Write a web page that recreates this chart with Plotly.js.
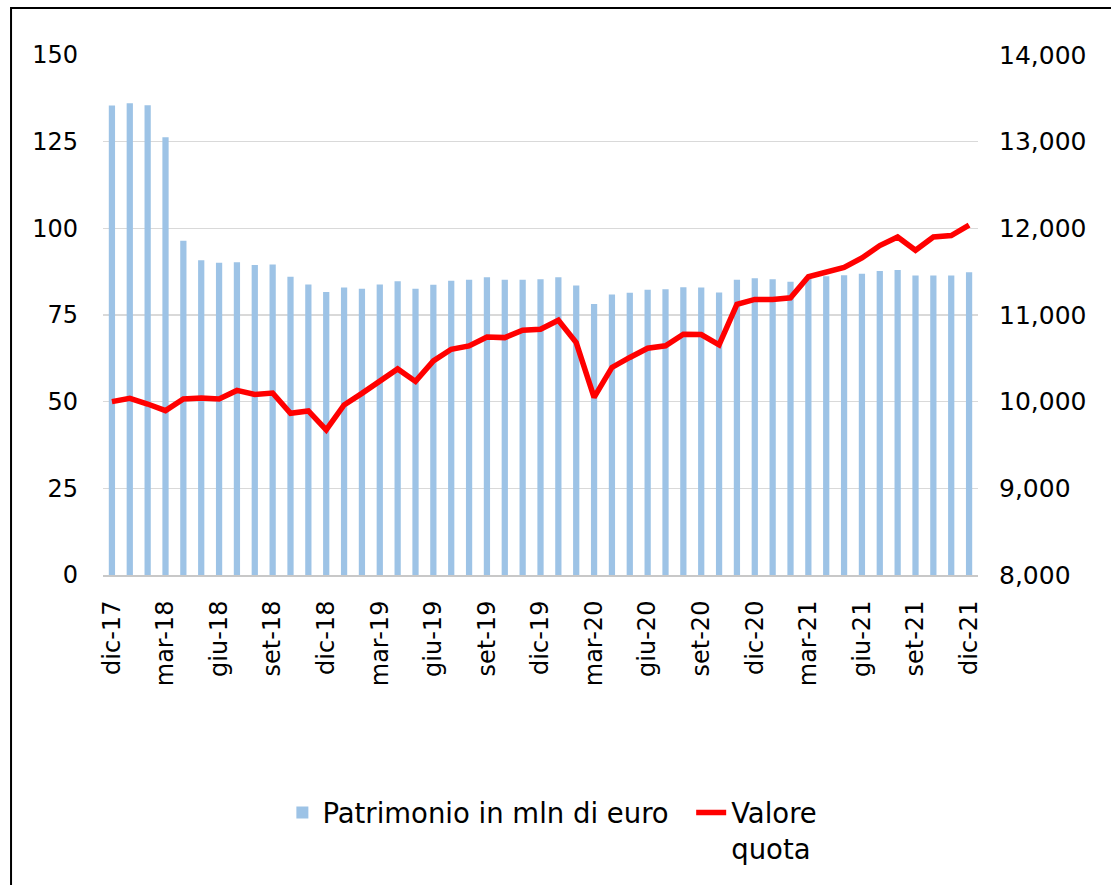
<!DOCTYPE html>
<html>
<head>
<meta charset="utf-8">
<script src="https://cdn.plot.ly/plotly-3.0.1.min.js"></script>
<style>html,body{margin:0;padding:0;background:#fff;}#chart{width:1111px;height:885px;}</style>
</head>
<body>
<div id="chart"></div>
<script>
const months = [
  "dic-17","gen-18","feb-18","mar-18","apr-18","mag-18","giu-18","lug-18","ago-18","set-18","ott-18","nov-18",
  "dic-18","gen-19","feb-19","mar-19","apr-19","mag-19","giu-19","lug-19","ago-19","set-19","ott-19","nov-19",
  "dic-19","gen-20","feb-20","mar-20","apr-20","mag-20","giu-20","lug-20","ago-20","set-20","ott-20","nov-20",
  "dic-20","gen-21","feb-21","mar-21","apr-21","mag-21","giu-21","lug-21","ago-21","set-21","ott-21","nov-21",
  "dic-21"
];
const patrimonio = [
  135.4, 136.1, 135.5, 126.3, 96.4, 90.8, 90.1, 90.2, 89.4, 89.6, 86.0, 83.8,
  81.6, 82.9, 82.6, 83.8, 84.7, 82.6, 83.7, 84.9, 85.2, 85.9, 85.2, 85.2,
  85.3, 85.9, 83.5, 78.2, 80.9, 81.4, 82.3, 82.4, 83.0, 82.9, 81.5, 85.2,
  85.6, 85.3, 84.6, 85.5, 86.2, 86.5, 86.9, 87.7, 88.0, 86.4, 86.4, 86.4,
  87.3
];
const valoreQuota = [
  10000, 10038, 9973, 9897, 10031, 10042, 10031, 10130, 10084, 10100, 9866, 9893,
  9674, 9962, 10096, 10235, 10378, 10234, 10471, 10605, 10644, 10747, 10739, 10824,
  10835, 10939, 10682, 10050, 10395, 10510, 10617, 10645, 10778, 10774, 10655, 11123,
  11180, 11180, 11199, 11441, 11487, 11548, 11659, 11801, 11900, 11747, 11900, 11916,
  12038
];
const tickLabels = months.filter((m, i) => i % 3 === 0);
const leftTicks = [0, 25, 50, 75, 100, 125, 150];
const rightTicks = [8000, 9000, 10000, 11000, 12000, 13000, 14000];

const FONT = "DejaVu Sans, sans-serif";
const traces = [
  {
    type: "bar", x: months, y: patrimonio, name: "Patrimonio in mln di euro\u00a0\u00a0",
    marker: {color: "#9dc3e6"}, yaxis: "y"
  },
  {
    type: "scatter", mode: "lines", x: months, y: valoreQuota, name: "Valore<br>quota",
    line: {color: "#ff0000", width: 5.5}, yaxis: "y2"
  }
];
const layout = {
  width: 1111, height: 885,
  margin: {l: 103, r: 133, t: 55, b: 310},
  paper_bgcolor: "#ffffff", plot_bgcolor: "#ffffff",
  font: {family: FONT, size: 24, color: "#000"},
  bargap: 0.65,
  showlegend: true,
  legend: {orientation: "h", x: 0.205, xanchor: "left", y: -0.41, yanchor: "top",
           valign: "top", font: {family: FONT, size: 27.5, color: "#000"}, traceorder: "normal"},
  xaxis: {
    type: "category", range: [-0.5, 48.5], tickangle: -90,
    tickmode: "array", tickvals: tickLabels, ticktext: tickLabels,
    showgrid: false, showline: true, linecolor: "#c8c8c8", linewidth: 2,
    ticks: "", ticklabelstandoff: 14, tickfont: {family: FONT, size: 24}
  },
  yaxis: {
    range: [0, 150], tickmode: "array", tickvals: leftTicks,
    showgrid: true, gridcolor: "#d9d9d9", gridwidth: 1.5, zeroline: false,
    ticks: "", ticklabelstandoff: 24, tickfont: {family: FONT, size: 24}
  },
  yaxis2: {
    range: [8000, 14000], overlaying: "y", side: "right", tickmode: "array",
    tickvals: rightTicks, tickformat: ",", showgrid: false, zeroline: false,
    ticks: "", ticklabelstandoff: 20, tickfont: {family: FONT, size: 25}
  },
  shapes: [{
    type: "rect", xref: "paper", yref: "paper",
    x0: -0.1051, x1: 1.16, y0: -0.62, y1: 1.0904,
    line: {color: "#000", width: 2}, fillcolor: "rgba(0,0,0,0)", layer: "above"
  }]
};
Plotly.newPlot("chart", traces, layout, {displayModeBar: false, staticPlot: true});
</script>
</body>
</html>
